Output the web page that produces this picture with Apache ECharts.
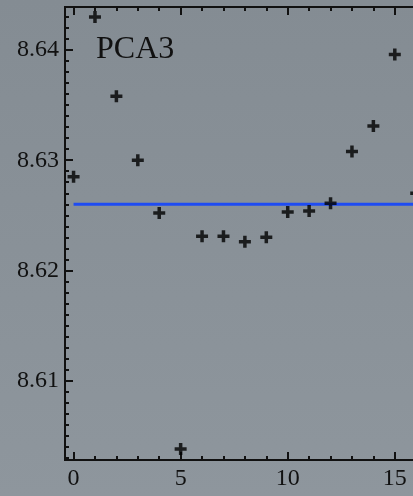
<!DOCTYPE html>
<html><head><meta charset="utf-8">
<script src="https://cdn.jsdelivr.net/npm/echarts@6/dist/echarts.min.js"></script>
<style>html,body{margin:0;padding:0;background:#8a9298}#c{width:413px;height:496px}</style>
</head><body><div id="c"></div>
<script>
var xValues = [0,1,2,3,4,5,6,7,8,9,10,11,12,13,14,15,16];
var yValues = [8.6285,8.6430,8.6358,8.6300,8.6252,8.6038,8.6231,8.6231,8.6226,8.6230,8.6253,8.6254,8.6261,8.6308,8.6331,8.6396,8.6270];
var meanLevel = 8.6260;
var meanStart = 0;
var meanEnd = 17;
var xMajorTicks = [0,5,10,15];
var xMinorTicks = [0,1,2,3,4,5,6,7,8,9,10,11,12,13,14,15];
var yMajorTicks = [8.61,8.62,8.63,8.64];
var yMinorTicks = [];
for (var i = 8603; i <= 8643; i++) yMinorTicks.push(i / 1000);
var panelLabel = 'PCA3';

var XMIN = -0.4, XMAX = 15.85, YMIN = 8.6028, YMAX = 8.6439;
var FONT = 'Liberation Serif';
var INK = '#111111';

function xAx(pos, ticks, len, labels) {
  return {
    type: 'value', position: pos, min: XMIN, max: XMAX,
    axisLine: {show: true, onZero: false, lineStyle: {color: INK, width: 2}},
    axisTick: {show: true, inside: true, length: len, customValues: ticks, lineStyle: {color: INK, width: 2}},
    axisLabel: labels ? {show: true, customValues: ticks, margin: 7, color: INK, fontFamily: FONT, fontSize: 24} : {show: false},
    splitLine: {show: false}
  };
}
function yAx(ticks, len, labels) {
  return {
    type: 'value', position: 'left', min: YMIN, max: YMAX,
    axisLine: {show: true, onZero: false, lineStyle: {color: INK, width: 2}},
    axisTick: {show: true, inside: true, length: len, customValues: ticks, lineStyle: {color: INK, width: 2}},
    axisLabel: labels ? {show: true, customValues: ticks, margin: 6, color: INK, fontFamily: FONT, fontSize: 24,
      formatter: function (v) { return v.toFixed(2); }} : {show: false},
    splitLine: {show: false}
  };
}

var chart = echarts.init(document.getElementById('c'), null, {renderer: 'canvas'});
chart.setOption({
  animation: false,
  backgroundColor: {type: 'linear', x: 0, y: 0, x2: 0, y2: 1,
    colorStops: [{offset: 0, color: '#848c93'}, {offset: 1, color: '#8e969d'}]},
  grid: {left: 65, top: 7, right: 0, bottom: 36, containLabel: false},
  xAxis: [
    xAx('bottom', xMajorTicks, 8, true),
    xAx('bottom', xMinorTicks, 4, false),
    xAx('top', xMajorTicks, 8, false),
    xAx('top', xMinorTicks, 4, false)
  ],
  yAxis: [
    yAx(yMajorTicks, 8, true),
    yAx(yMinorTicks, 4, false)
  ],
  graphic: [{
    type: 'text', left: 96, top: 34,
    style: {text: panelLabel, font: '32px "Liberation Serif"', fill: INK}
  }],
  series: [
    {
      type: 'line', xAxisIndex: 0, yAxisIndex: 0, clip: true,
      data: [[meanStart, meanLevel], [meanEnd, meanLevel]],
      symbol: 'none', lineStyle: {color: '#1f4cf2', width: 3}, z: 2
    },
    {
      type: 'scatter', xAxisIndex: 0, yAxisIndex: 0, clip: false,
      data: xValues.map(function (x, i) { return [x, yValues[i]]; }),
      symbol: 'path://M4.25,0h3.5v4.25h4.25v3.5h-4.25v4.25h-3.5v-4.25h-4.25v-3.5h4.25z',
      symbolSize: 12, itemStyle: {color: '#000'}, z: 3
    }
  ]
});
</script></body></html>
